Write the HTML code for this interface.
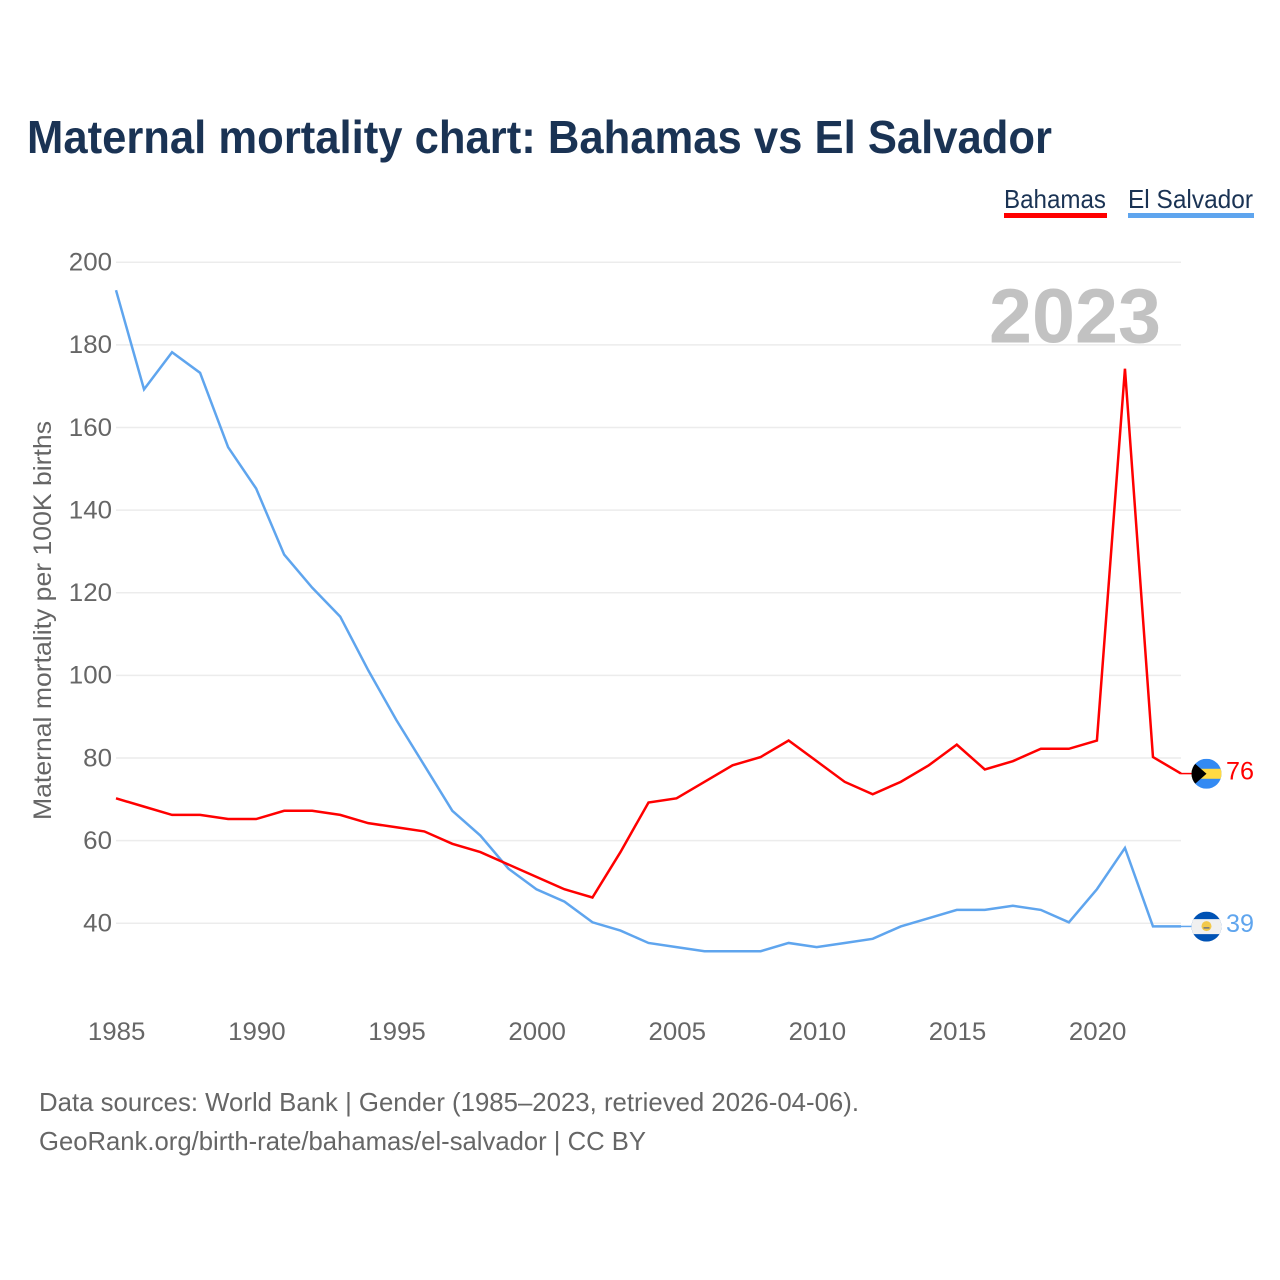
<!DOCTYPE html>
<html>
<head>
<meta charset="utf-8">
<title>Maternal mortality chart: Bahamas vs El Salvador</title>
<style>
html,body{margin:0;padding:0;background:#fff;width:1280px;height:1280px;overflow:hidden}
svg{display:block}
text{font-family:"Liberation Sans",sans-serif}
</style>
</head>
<body>
<svg id="chart" xmlns="http://www.w3.org/2000/svg" width="1280" height="1280" viewBox="0 0 1280 1280">
  <text x="27" y="153" font-size="46" font-weight="700" fill="#1a3354" textLength="1025" lengthAdjust="spacingAndGlyphs">Maternal mortality chart: Bahamas vs El Salvador</text>

  <g>
    <text x="1004" y="208" font-size="26" fill="#1a3354" textLength="102" lengthAdjust="spacingAndGlyphs">Bahamas</text>
    <rect x="1004" y="213" width="103" height="5" fill="#ff0000"/>
  </g>
  <g>
    <text x="1128" y="208" font-size="26" fill="#1a3354" textLength="125" lengthAdjust="spacingAndGlyphs">El Salvador</text>
    <rect x="1128" y="213" width="126" height="5" fill="#5fa5ee"/>
  </g>

  <g id="grid"></g>
  <g id="yticks"></g>
  <g id="xticks"></g>

  <text transform="translate(51,820) rotate(-90)" font-size="25" fill="#666666" textLength="399" lengthAdjust="spacingAndGlyphs">Maternal mortality per 100K births</text>

  <text x="989" y="342.5" font-size="77" font-weight="700" fill="#c2c2c2" textLength="172" lengthAdjust="spacingAndGlyphs">2023</text>

  <g id="series" transform="translate(0,-0.7)"></g>

  <g id="flag-bahamas">
    <clipPath id="clip-bs"><circle cx="0" cy="0" r="15"/></clipPath>
    <g clip-path="url(#clip-bs)">
      <rect x="-15" y="-15" width="30" height="30" fill="#338af3"/>
      <rect x="-15" y="-5" width="30" height="10" fill="#ffda44"/>
      <polygon points="-17,-15 0,0 -17,15" fill="#000000"/>
    </g>
  </g>
  <g id="flag-el-salvador">
    <clipPath id="clip-sv"><circle cx="0" cy="0" r="15"/></clipPath>
    <g clip-path="url(#clip-sv)">
      <rect x="-15" y="-15" width="30" height="30" fill="#0052b4"/>
      <rect x="-15" y="-7.5" width="30" height="15" fill="#f0f0f0"/>
      <circle cx="0" cy="-0.5" r="5" fill="#f2c94c"/>
      <rect x="-3" y="0.5" width="6" height="1.5" fill="#6f7684"/>
    </g>
  </g>

  <g id="endlabels"></g>

  <text x="39" y="1111" font-size="26" fill="#666666" textLength="820" lengthAdjust="spacingAndGlyphs">Data sources: World Bank | Gender (1985–2023, retrieved 2026-04-06).</text>
  <text x="39" y="1150" font-size="26" fill="#666666" textLength="607" lengthAdjust="spacingAndGlyphs">GeoRank.org/birth-rate/bahamas/el-salvador | CC BY</text>
</svg>
<script>
const years = [1985,1986,1987,1988,1989,1990,1991,1992,1993,1994,1995,1996,1997,1998,1999,2000,2001,2002,2003,2004,2005,2006,2007,2008,2009,2010,2011,2012,2013,2014,2015,2016,2017,2018,2019,2020,2021,2022,2023];
const bahamas = [70,68,66,66,65,65,67,67,66,64,63,62,59,57,54,51,48,46,57,69,70,74,78,80,84,79,74,71,74,78,83,77,79,82,82,84,174,80,76];
const elSalvador = [193,169,178,173,155,145,129,121,114,101,89,78,67,61,53,48,45,40,38,35,34,33,33,33,35,34,35,36,39,41,43,43,44,43,40,48,58,39,39];
const yTickValues = [40,60,80,100,120,140,160,180,200];
const xTickValues = [1985,1990,1995,2000,2005,2010,2015,2020];

const NS = 'http://www.w3.org/2000/svg';
function xScale(year){ return 116 + (year - 1985) * (1181 - 116) / (2023 - 1985); }
function yScale(v){ return 923 - (v - 40) * (923 - 262) / (200 - 40); }
function make(tag, parent, attrs){
  const el = document.createElementNS(NS, tag);
  for (const k in attrs) el.setAttribute(k, attrs[k]);
  parent.appendChild(el);
  return el;
}

const grid = document.getElementById('grid');
const yticks = document.getElementById('yticks');
yTickValues.forEach(function(v){
  const line = make('line', grid, {x1:116, x2:1181, y1:yScale(v)+0.3, y2:yScale(v)+0.3, stroke:'#ececec', 'stroke-width':1.5});
  
  
  const t = make('text', yticks, {x:112, y:yScale(v)+8.5, 'text-anchor':'end', 'font-size':25, fill:'#666666', textLength:String(v).length*14.4, lengthAdjust:'spacingAndGlyphs'});
  t.textContent = v;
  
  
});

const xticks = document.getElementById('xticks');
xTickValues.forEach(function(y){
  const t = make('text', xticks, {x:xScale(y)+0.7, y:1040, 'text-anchor':'middle', 'font-size':25, fill:'#666666', textLength:57.5, lengthAdjust:'spacingAndGlyphs'});
  t.textContent = y;
  
  
});

function points(values){
  return values.map(function(v,i){ return xScale(years[i]).toFixed(2)+','+yScale(v).toFixed(2); }).join(' ');
}
const series = document.getElementById('series');

const lineSv = make('polyline', series, {points:points(elSalvador), fill:'none', stroke:'#5fa5ee', 'stroke-width':2.5, 'stroke-linejoin':'miter'});



const lineBs = make('polyline', series, {points:points(bahamas), fill:'none', stroke:'#ff0000', 'stroke-width':2.5, 'stroke-linejoin':'miter'});



const lastBs = bahamas[bahamas.length-1];
const lastSv = elSalvador[elSalvador.length-1];
const flagX = xScale(2023) + 25.5;

const leadBs = make('line', series, {x1:xScale(2023), x2:flagX-15, y1:yScale(lastBs), y2:yScale(lastBs), stroke:'#ff0000', 'stroke-width':1.5});



const leadSv = make('line', series, {x1:xScale(2023), x2:flagX-15, y1:yScale(lastSv), y2:yScale(lastSv), stroke:'#5fa5ee', 'stroke-width':1.5});



document.getElementById('flag-bahamas').setAttribute('transform', 'translate('+flagX+','+(yScale(lastBs)-0.5)+')');
document.getElementById('flag-el-salvador').setAttribute('transform', 'translate('+flagX+','+(yScale(lastSv)-0.5)+')');

const endlabels = document.getElementById('endlabels');
const endBs = make('text', endlabels, {x:1226, y:yScale(lastBs)+5, 'font-size':25, fill:'#ff0000', textLength:28, lengthAdjust:'spacingAndGlyphs'});
endBs.textContent = lastBs;



const endSv = make('text', endlabels, {x:1226, y:yScale(lastSv)+5, 'font-size':25, fill:'#5fa5ee', textLength:28, lengthAdjust:'spacingAndGlyphs'});
endSv.textContent = lastSv;


</script>
</body>
</html>
